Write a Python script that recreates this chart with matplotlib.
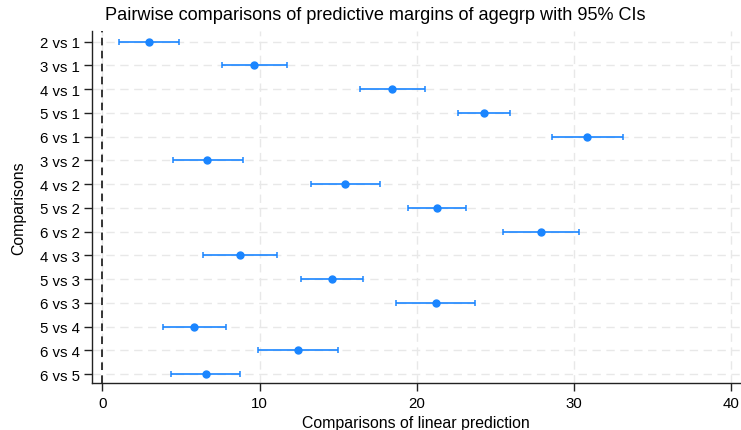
import matplotlib
matplotlib.use("Agg")
import matplotlib.pyplot as plt
import numpy as np

labels = ["2 vs 1", "3 vs 1", "4 vs 1", "5 vs 1", "6 vs 1", "3 vs 2", "4 vs 2",
          "5 vs 2", "6 vs 2", "4 vs 3", "5 vs 3", "6 vs 3", "5 vs 4", "6 vs 4", "6 vs 5"]
estimate = [2.97, 9.64, 18.42, 24.27, 30.83, 6.68, 15.45, 21.28, 27.87,
            8.75, 14.60, 21.19, 5.85, 12.44, 6.59]
ci_low = [1.04, 7.59, 16.36, 22.59, 28.60, 4.47, 13.25, 19.45, 25.47,
          6.40, 12.61, 18.67, 3.84, 9.92, 4.39]
ci_high = [4.90, 11.72, 20.50, 25.92, 33.12, 8.92, 17.67, 23.14, 30.28,
           11.10, 16.59, 23.71, 7.86, 14.96, 8.77]
xticks = [0, 10, 20, 30, 40]

plt.rcParams['font.family'] = ['Liberation Sans', 'DejaVu Sans']

fig = plt.figure(figsize=(7.41, 4.31), dpi=100)
ax = fig.add_axes([0.1246, 0.109, 0.874, 0.8166])

blue = "#1a85ff"
grid_c = "#e8e8e8"
ypos = np.arange(1, len(labels) + 1)
est = np.array(estimate)
lo = np.array(ci_low)
hi = np.array(ci_high)

# grid
for y in ypos:
    ax.axhline(y, color=grid_c, lw=1.0, ls=(0, (6, 4)), zorder=0)
for x in xticks:
    ax.axvline(x, color=grid_c, lw=1.0, ls=(0, (6, 4)), zorder=0)

ax.axvline(0, color="black", lw=1.1, ls=(0, (5, 3.5)), zorder=1)

ax.errorbar(est, ypos, xerr=[est - lo, hi - est], fmt="o", color=blue,
            ms=5, elinewidth=1.2, capsize=2.4, capthick=1.1, zorder=3)

ax.set_xlim(-0.64, 40.54)
ax.set_ylim(15.38, 0.55)
ax.set_xticks(xticks)
ax.set_yticks(ypos)
ax.set_yticklabels(labels)
for s in ["top", "right"]:
    ax.spines[s].set_visible(False)
for s in ["left", "bottom"]:
    ax.spines[s].set_color("#222222")
    ax.spines[s].set_linewidth(1.0)
ax.tick_params(axis="both", length=6, width=1.0, color="#222222", labelsize=10.8, pad=3)
ax.set_xlabel("Comparisons of linear prediction", fontsize=11.4, labelpad=4)
ax.set_ylabel("Comparisons", fontsize=11.4, labelpad=10)

fig.text(375 / 741, 1 - 16 / 431, "Pairwise comparisons of predictive margins of agegrp with 95% CIs",
         ha="center", va="center", fontsize=13.1)

fig.savefig("out.png", dpi=100)
